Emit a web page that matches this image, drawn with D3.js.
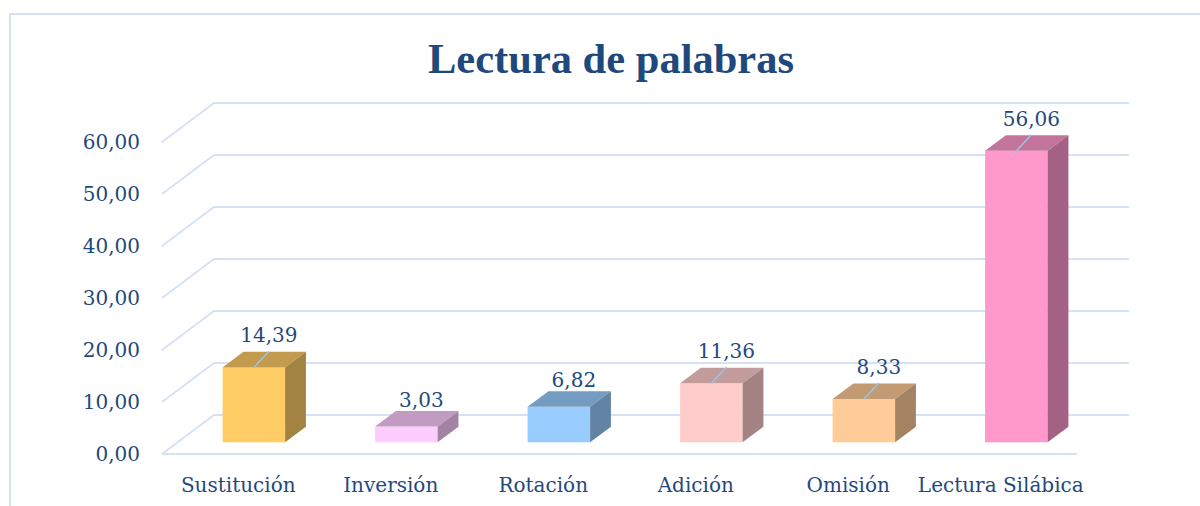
<!DOCTYPE html>
<html>
<head>
<meta charset="utf-8">
<script src="https://cdn.jsdelivr.net/npm/d3@7"></script>
<style>
body { margin: 0; background: #fff; }
</style>
</head>
<body>
<svg id="grafico" width="1200" height="506"></svg>
<script>
'use strict';

// datos
var titulo = "Lectura de palabras";
var categorias = ["Sustitución", "Inversión", "Rotación", "Adición", "Omisión", "Lectura Silábica"];
var valores = [14.39, 3.03, 6.82, 11.36, 8.33, 56.06];
var colores = ["#FFCC66", "#FFCCFF", "#99CCFF", "#FFCCCC", "#FFCC99", "#FF99CC"];
var marcasY = [0, 10, 20, 30, 40, 50, 60];

var svg = d3.select("#grafico");

var azul = "#1F497D",
    rejilla = "#D6E2F3",
    fuente = "'DejaVu Serif', serif";

// profundidad del "3D"
var prof = { dx: 52, dy: -39 },
    z0 = 0.3, z1 = 0.7;

var izq = 162, der = 1077, base = 454;

var fmt = d3.formatLocale({ decimal: ",", thousands: ".", grouping: [3], currency: ["", "€"] }).format(".2f");

var x = d3.scaleBand()
    .domain(categorias)
    .range([izq, der])
    .paddingInner(0.59)
    .paddingOuter(0.295);

var xCat = d3.scaleBand()
    .domain(categorias)
    .range([izq, der]);

var y = d3.scaleLinear()
    .domain([0, 60])
    .range([base, base - 312]);

// marco
svg.append("rect")
    .attr("x", 10).attr("y", 14)
    .attr("width", 1300).attr("height", 600)
    .attr("fill", "#fff")
    .attr("stroke", "#D5E2F2")
    .attr("stroke-width", 2);

// titulo
svg.append("text")
    .attr("x", 611)
    .attr("y", 73)
    .attr("text-anchor", "middle")
    .style("font-family", "'Liberation Serif', 'Times New Roman', serif")
    .style("font-weight", "bold")
    .style("font-size", "42.5px")
    .style("fill", azul)
    .text(titulo);

// rejilla: pared izquierda + pared del fondo
svg.append("g")
    .selectAll("path")
    .data(marcasY)
    .enter().append("path")
    .attr("d", function (t) {
        return "M" + izq + "," + y(t) +
            "L" + (izq + prof.dx) + "," + (y(t) + prof.dy) +
            "L" + (der + prof.dx) + "," + (y(t) + prof.dy);
    })
    .attr("fill", "none")
    .attr("stroke", rejilla)
    .attr("stroke-width", 2);

// suelo (linea frontal)
svg.append("line")
    .attr("x1", izq).attr("x2", der)
    .attr("y1", base).attr("y2", base)
    .attr("stroke", rejilla)
    .attr("stroke-width", 2);

function sombra(c, f) {
    var r = d3.rgb(c);
    return d3.rgb(r.r * f, r.g * f, r.b * f).formatHex();
}

var ddx = prof.dx * (z1 - z0), ddy = prof.dy * (z1 - z0);
var w = x.bandwidth();

function geo(d, i) {
    return {
        x0: x(categorias[i]) + prof.dx * z0,
        yb: base + prof.dy * z0,
        yt: y(d) + prof.dy * z0
    };
}

var barras = svg.append("g")
    .selectAll("g")
    .data(valores)
    .enter().append("g");

// cara frontal
barras.append("rect")
    .attr("x", function (d, i) { return geo(d, i).x0; })
    .attr("y", function (d, i) { return geo(d, i).yt; })
    .attr("width", w)
    .attr("height", function (d, i) { var g = geo(d, i); return g.yb - g.yt; })
    .attr("fill", function (d, i) { return colores[i]; });

// cara superior
barras.append("path")
    .attr("d", function (d, i) {
        var g = geo(d, i);
        return "M" + g.x0 + "," + g.yt +
            "L" + (g.x0 + w) + "," + g.yt +
            "L" + (g.x0 + w + ddx) + "," + (g.yt + ddy) +
            "L" + (g.x0 + ddx) + "," + (g.yt + ddy) + "Z";
    })
    .attr("fill", function (d, i) { return sombra(colores[i], 0.76); });

// cara lateral
barras.append("path")
    .attr("d", function (d, i) {
        var g = geo(d, i);
        return "M" + (g.x0 + w) + "," + g.yt +
            "L" + (g.x0 + w + ddx) + "," + (g.yt + ddy) +
            "L" + (g.x0 + w + ddx) + "," + (g.yb + ddy) +
            "L" + (g.x0 + w) + "," + g.yb + "Z";
    })
    .attr("fill", function (d, i) { return sombra(colores[i], 0.64); });

// etiquetas de valor (algunas movidas, con linea guia)
var conGuia = [true, false, false, true, true, true];

barras.each(function (d, i) {
    var g = geo(d, i);
    var cx = g.x0 + w / 2;
    var sel = d3.select(this);
    if (conGuia[i]) {
        sel.append("line")
            .attr("x1", cx).attr("y1", g.yt)
            .attr("x2", cx + 15).attr("y2", g.yt - 16)
            .attr("stroke", "#9DC3E6")
            .attr("stroke-width", 1.5);
    }
    sel.append("text")
        .attr("x", cx + 15)
        .attr("y", g.yt - (conGuia[i] ? 25 : 20))
        .attr("text-anchor", "middle")
        .style("font-family", fuente)
        .style("font-size", "20px")
        .style("fill", azul)
        .text(fmt(d));
});

// eje Y
var ejeY = svg.append("g")
    .attr("transform", "translate(" + izq + ",0)")
    .call(d3.axisLeft(y).tickValues(marcasY).tickSize(0).tickPadding(22).tickFormat(fmt));
ejeY.select(".domain").remove();
ejeY.selectAll("text")
    .style("font-family", fuente)
    .style("font-size", "20px")
    .style("fill", azul);

// eje X
var ejeX = svg.append("g")
    .attr("transform", "translate(0," + base + ")")
    .call(d3.axisBottom(xCat).tickSize(0).tickPadding(24));
ejeX.select(".domain").remove();
ejeX.selectAll("text")
    .style("font-family", fuente)
    .style("font-size", "20px")
    .style("fill", azul);
</script>
</body>
</html>
